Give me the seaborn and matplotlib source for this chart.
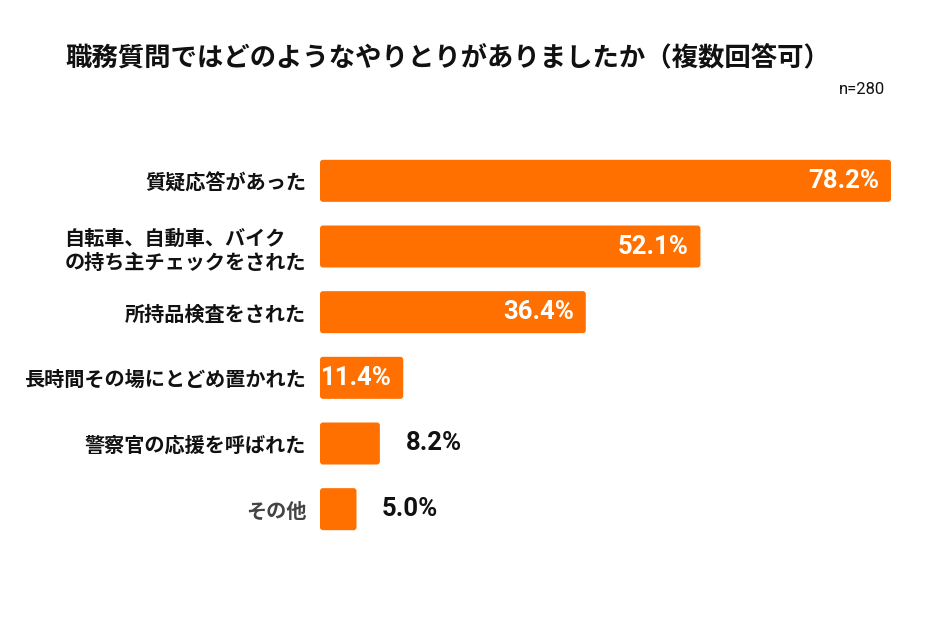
import matplotlib
matplotlib.use("Agg")
import matplotlib.pyplot as plt
import seaborn as sns
import pandas as pd
from matplotlib.patches import FancyBboxPatch

# data
categories = ["質疑応答があった",
              "自転車、自動車、バイク\nの持ち主チェックをされた",
              "所持品検査をされた",
              "長時間その場にとどめ置かれた",
              "警察官の応援を呼ばれた",
              "その他"]
values = [78.2, 52.1, 36.4, 11.4, 8.2, 5.0]
label_colors = ["#111111", "#111111", "#111111", "#111111", "#111111", "#444444"]

title = "職務質問ではどのようなやりとりがありましたか（複数回答可）"
note = "n=280"

sns.set_theme(style="white")
plt.rcParams['font.family'] = ['Noto Sans CJK JP', 'DejaVu Sans']

df = pd.DataFrame({"cat": categories, "val": values})
bar_color = "#FF7000"

fig = plt.figure(figsize=(9.34, 6.23), dpi=100)
ax = fig.add_axes([320/934, 1-542/623, 571/934, (542-148)/623])

sns.barplot(data=df, x="val", y="cat", color=bar_color, width=0.64,
            saturation=1, ax=ax, orient="h")

# rounded corners: replace bars
mut = (1/65.6) / (1/7.3)
for p in list(ax.patches):
    x0, y0 = p.get_x(), p.get_y()
    w, h = p.get_width(), p.get_height()
    p.remove()
    fb = FancyBboxPatch((x0, y0), w, h,
                        boxstyle="round,pad=0,rounding_size=0.4",
                        mutation_aspect=mut, facecolor=bar_color,
                        edgecolor="none")
    ax.add_patch(fb)

ax.set_xlim(0, 78.2)
ax.set_ylim(5.5, -0.5)
ax.set_xlabel("")
ax.set_ylabel("")
ax.set_xticks([])
sns.despine(ax=ax, left=True, bottom=True)

ax.tick_params(axis="y", length=0, pad=10)
for lab, c in zip(ax.get_yticklabels(), label_colors):
    lab.set_fontsize(14.5)
    lab.set_fontweight("bold")
    lab.set_color(c)
    lab.set_multialignment("left")

num_font = ['Roboto', 'Noto Sans CJK JP']
for i, v in enumerate(values):
    if v >= 10:
        ax.text(v - 1.6, i, f"{v:.1f}%", ha="right", va="center",
                color="white", fontsize=18.5, fontweight="bold", family=num_font)
    else:
        ax.text(v + 3.5, i, f"{v:.1f}%", ha="left", va="center",
                color="#111111", fontsize=18.5, fontweight="bold", family=num_font)

fig.text(65/934, 1-58/623, title, ha="left", va="center",
         fontsize=19, fontweight="bold", color="#111111")
fig.text(885/934, 1-89/623, note, ha="right", va="center",
         fontsize=12, color="#111111", family=num_font)

fig.savefig("out.png", dpi=100, facecolor="white")
